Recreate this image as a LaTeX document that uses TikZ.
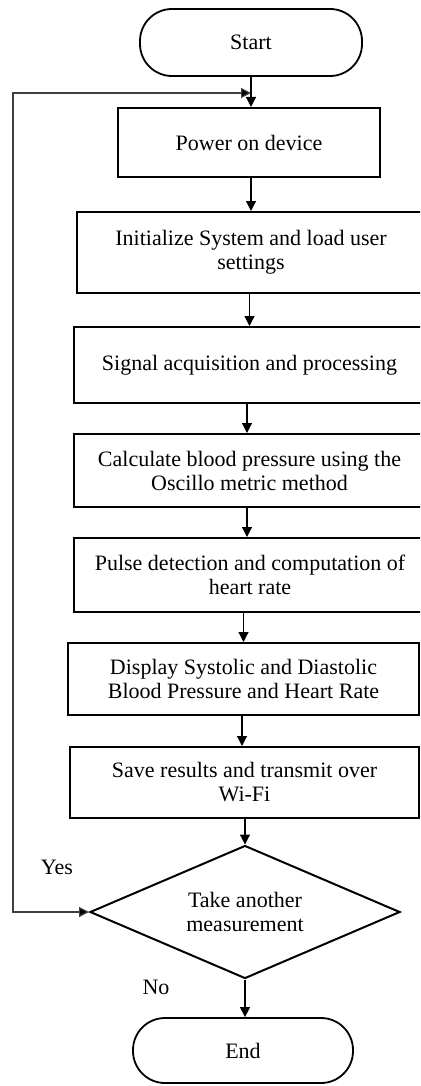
\documentclass[tikz,border=0pt]{standalone}
\usepackage{fontspec}
\setmainfont{Liberation Serif}
\usetikzlibrary{arrows.meta,shapes.geometric}
\begin{document}
\begin{tikzpicture}[x=0.5pt,y=-0.5pt,
  txt/.style={font=\fontsize{11}{12}\selectfont,align=center},
  procbox/.style={txt,draw,line width=1pt,rectangle,inner sep=0pt},
  termbox/.style={txt,draw,line width=0.9pt,rectangle,rounded corners=16pt,inner sep=0pt},
  decbox/.style={txt,draw,line width=1pt,diamond,inner sep=0pt,aspect=2.33},
  arr/.style={line width=0.6pt,-{Triangle[length=5pt,width=5pt]}},
  looparr/.style={line width=0.6pt,draw=black!75,{Triangle[length=5pt,width=5pt,fill=black]}-{Triangle[length=5pt,width=5pt,fill=black]}},
  lbl/.style={font=\fontsize{11}{12}\selectfont}
]
\useasboundingbox (0,0) rectangle (420,1086);
\clip (0,0) rectangle (420,1086);

\node[termbox,minimum width=111pt,minimum height=33.5pt] (start) at (251,42.5) {Start};
\node[procbox,minimum width=131pt,minimum height=34.5pt] (power) at (249,142.5) {Power on device};
\node[procbox,minimum width=174pt,minimum height=40.5pt] (init) at (251,252.5) {Initialize System and load user\\settings};
\node[procbox,minimum width=175.5pt,minimum height=38pt] (signal) at (249.5,365) {Signal acquisition and processing};
\node[procbox,minimum width=175.5pt,minimum height=36.5pt] (calc) at (249.5,470.5) {Calculate blood pressure using the\\Oscillo metric method};
\node[procbox,minimum width=176pt,minimum height=37pt] (pulse) at (250,575) {Pulse detection and computation of\\heart rate};
\node[procbox,minimum width=175.5pt,minimum height=36pt] (display) at (243.5,679) {Display Systolic and Diastolic\\Blood Pressure and Heart Rate};
\node[procbox,minimum width=174.5pt,minimum height=35.5pt] (save) at (244.5,782.5) {Save results and transmit over\\Wi-Fi};
\node[decbox,minimum width=155pt,minimum height=66.5pt] (dec) at (245,912) {Take another\\measurement};
\node[termbox,minimum width=110pt,minimum height=32.5pt] (end) at (243,1050.5) {End};

\node[lbl] (yes) at (57,867) {Yes};
\node[lbl] (no) at (156,987) {No};

\coordinate (join) at (251,93);
\coordinate (c1) at (13,93);
\coordinate (c2) at (13,912);

\draw[arr] (start.south) -- (start.south |- power.north);
\draw[arr] (power.south -| init.north) -- (init.north);
\draw[arr] (init.south -| signal.north) -- (signal.north);
\draw[arr] (signal.south -| 247,0) -- (calc.north -| 247,0);
\draw[arr] (calc.south -| 247,0) -- (pulse.north -| 247,0);
\draw[arr] (pulse.south -| display.north) -- (display.north);
\draw[arr] (display.south -| 242,0) -- (save.north -| 242,0);
\draw[arr] (save.south -| dec.north) -- (dec.north);
\draw[arr] (dec.south) -- (dec.south |- end.north);
\draw[looparr] (join) -- (c1) -- (c2) -- (dec.west);
\end{tikzpicture}
\end{document}
